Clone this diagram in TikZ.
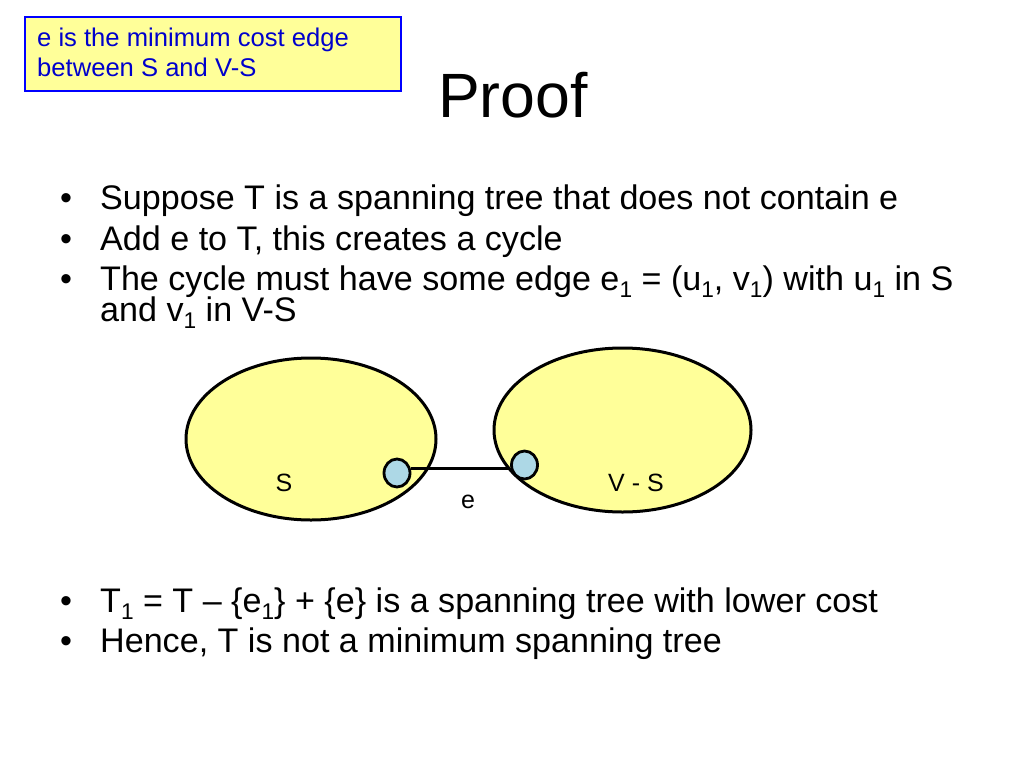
\documentclass[tikz,border=0pt]{standalone}
\usepackage{fontspec}
\setmainfont{Liberation Sans}
\usetikzlibrary{shapes.geometric}
\definecolor{setfill}{HTML}{FFFF99}
\definecolor{vtxfill}{HTML}{ADD8E6}
\definecolor{boxblue}{HTML}{0000FF}
\definecolor{txtblue}{HTML}{0000CC}
\newcommand\sbs[1]{\raisebox{-0.22em}{\fontsize{22.7}{24}\selectfont #1}}
\begin{document}
\begin{tikzpicture}[x=1pt,y=-1pt,
  body/.style={anchor=base west, inner sep=0pt, font=\fontsize{34.1}{29}\selectfont},
  bul/.style={anchor=base west, inner sep=0pt, font=\fontsize{34.1}{29}\selectfont},
  setell/.style={ellipse, draw=black, line width=3pt, fill=setfill, inner sep=0pt},
  vert/.style={ellipse, draw=black, line width=2.8pt, fill=vtxfill, inner sep=0pt,
               minimum width=26pt, minimum height=28pt},
  lab/.style={anchor=base, inner sep=0pt, font=\fontsize{25}{28}\selectfont},
  note/.style={anchor=base west, inner sep=0pt, text=txtblue, font=\fontsize{25.6}{30}\selectfont}]
\useasboundingbox (0,0) rectangle (1024,768);
\fill[white] (0,0) rectangle (1024,768);
% note box
\draw[boxblue, line width=2pt, fill=setfill] (25,17) rectangle (401,91);
\node[note] (n1) at (37,47) {e is the minimum cost edge};
\node[note] (n2) at (37,77) {between S and V-S};
% title
\node[anchor=base, inner sep=0pt, font=\fontsize{62.6}{70}\selectfont] (title) at (513,117) {Proof};
% bullets
\node[bul] (b1) at (60,209) {\textbullet};
\node[body] (t1) at (100,209) {Suppose T is a spanning tree that does not contain e};
\node[bul] (b2) at (60,250) {\textbullet};
\node[body] (t2) at (100,250) {Add e to T, this creates a cycle};
\node[bul] (b3) at (60,290) {\textbullet};
\node[body] (t3) at (100,290) {The cycle must have some edge e\sbs{1} = (u\sbs{1}, v\sbs{1}) with u\sbs{1} in S};
\node[body] (t3b) at (100,321) {and v\sbs{1} in V-S};
\node[bul] (b4) at (60,612) {\textbullet};
\node[body] (t4) at (100,612) {T\sbs{1} = T \textendash{} \{e\sbs{1}\} + \{e\} is a spanning tree with lower cost};
\node[bul] (b5) at (60,652) {\textbullet};
\node[body] (t5) at (100,652) {Hence, T is not a minimum spanning tree};
% diagram
\node[setell, minimum width=250pt, minimum height=162pt] (S) at (311,439) {};
\node[setell, minimum width=257pt, minimum height=164pt] (VS) at (622.5,430) {};
\node[vert] (u) at (397,473) {};
\node[vert] (v) at (524.5,465) {};
\draw[black, line width=3pt] (u.east |- 0,468) -- (v.west |- 0,468);
\node[lab] (lS) at (284,491) {S};
\node[lab] (lVS) at (636,491) {V - S};
\node[lab] (le) at (468,508) {e};
\end{tikzpicture}
\end{document}
